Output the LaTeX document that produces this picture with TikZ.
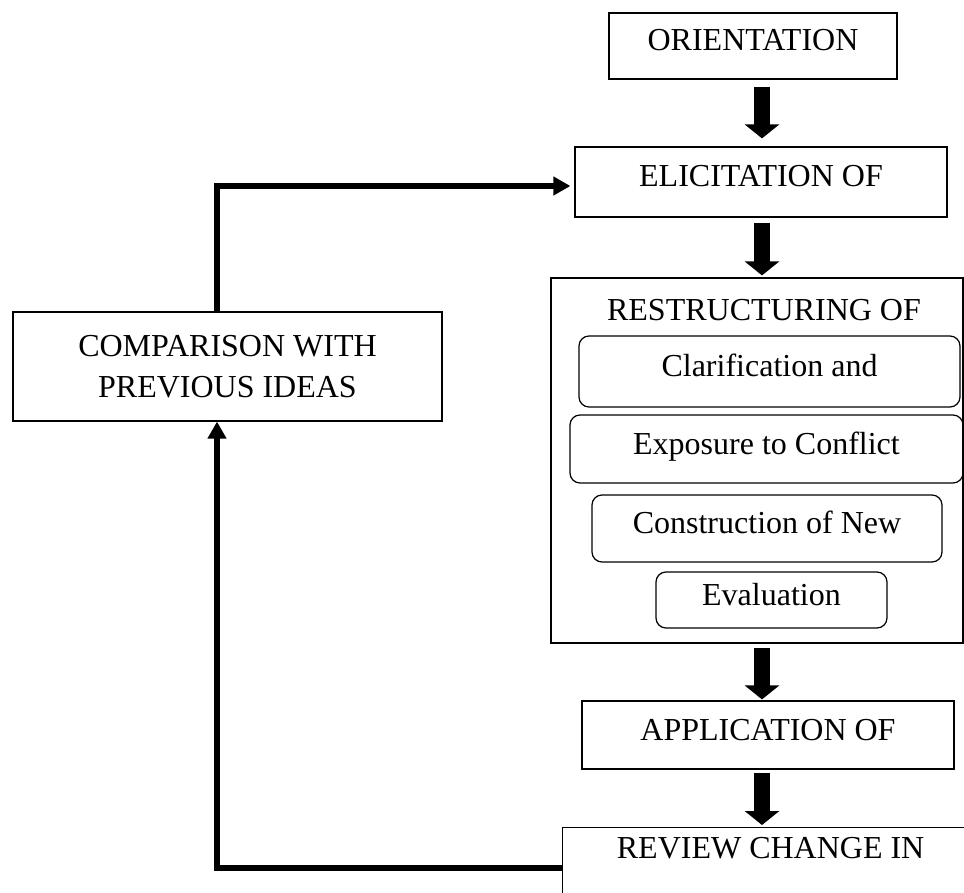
\documentclass[tikz,border=0pt]{standalone}
\usepackage{fontspec}
\setmainfont{Liberation Serif}
\usetikzlibrary{arrows.meta}

\begin{document}
\begin{tikzpicture}[x=0.5pt,y=-0.5pt,
        txt/.style={font=\fontsize{16}{20.5}\selectfont},
        frame/.style={txt,draw,line width=0.6pt,inner sep=0pt},
        box/.style={frame,text height=0.8em,text depth=0.3em},
        roundbox/.style={box,rounded corners=5pt},
        blockarrow/.style={line width=8pt,-{Triangle[length=7pt,width=17pt]}},
        backarrow/.style={line width=2.75pt,-{Triangle[length=8.5pt,width=9pt]}}]
            \useasboundingbox (0,0) rectangle (964,893);
            \clip (0,0) rectangle (964,893);
            \node[box,minimum width=144pt,minimum height=33pt] (O) at (753,46) {ORIENTATION};
            \node[box,minimum width=186pt,minimum height=35pt] (E) at (761,182) {ELICITATION OF};
            \node[frame,minimum width=206pt,minimum height=182.5pt] (RS) at (757,460.5) {};
            \node[txt] (RS-t) at (764,310) {RESTRUCTURING OF};
            \node[roundbox,minimum width=190.5pt,minimum height=35.5pt] (RS-1) at (769.5,371.5) {Clarification and};
            \node[roundbox,minimum width=196.5pt,minimum height=34pt] (RS-2) at (766.5,449) {Exposure to Conflict};
            \node[roundbox,minimum width=175pt,minimum height=33.5pt] (RS-3) at (767,528.5) {Construction of New};
            \node[roundbox,minimum width=115.5pt,minimum height=28pt] (RS-4) at (771.5,600) {Evaluation};
            \node[box,minimum width=186pt,minimum height=34pt] (A) at (768,735) {APPLICATION OF};
            \node[box,minimum width=208pt,anchor=north west,inner ysep=7.2pt,text depth=40pt] (R) at (562,827) {REVIEW CHANGE IN};
            \node[frame,align=center,minimum width=214.5pt,minimum height=54.5pt] (C) at (227.5,366.5) {COMPARISON WITH\\PREVIOUS IDEAS};
            \coordinate (axis) at (762,0);
            \foreach \a/\b/\s/\t in {O/E/3.5/4,E/RS/2.5/1,RS/A/2/0.5,A/R/1.5/1}{
                \draw[blockarrow,shorten <=\s pt,shorten >=\t pt] (\a.south -| axis) -- (\b.north -| axis);
            }
            \draw[backarrow] ([yshift=-20.5pt]R.north west) -| ([xshift=-5.25pt]C.south);
            \draw[backarrow,shorten >=2pt] ([xshift=-5.25pt]C.north) |- ([yshift=-2pt]E.west);
        \end{tikzpicture}
\end{document}
